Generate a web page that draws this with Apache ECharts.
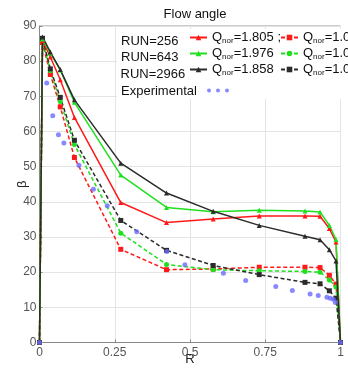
<!DOCTYPE html>
<html>
<head>
<meta charset="utf-8">
<script src="https://cdn.jsdelivr.net/npm/echarts@6/dist/echarts.min.js"></script>
<style>
  html, body { margin: 0; padding: 0; background: #fff; }
  #chart { width: 348px; height: 368px; }
</style>
</head>
<body>
<div id="chart"></div>
<script>
  // radial stations shared by all simulation runs
  const RUN_R = [0, 0.01, 0.036, 0.069, 0.116, 0.27, 0.422, 0.577, 0.73, 0.882, 0.932, 0.963, 0.985, 1];

  // flow angle β per run (solid = high flow, dashed = design flow)
  const RUN256_HI  = [0, 85.9, 81.2, 74.7, 64.0, 39.8, 34.1, 35.1, 36.0, 36.0, 35.9, 32.4, 28.6, 0];
  const RUN643_HI  = [0, 86.3, 82.3, 77.5, 68.3, 47.6, 38.4, 37.2, 37.6, 37.4, 37.1, 33.3, 29.3, 0];
  const RUN2966_HI = [0, 86.9, 82.6, 77.6, 69.0, 51.0, 42.5, 37.3, 33.3, 30.2, 29.2, 26.4, 23.2, 0];
  const RUN256_DS  = [0, 85.3, 76.2, 67.0, 52.6, 26.5, 20.7, 20.9, 21.4, 21.4, 21.3, 19.1, 16.6, 0];
  const RUN643_DS  = [0, 86.0, 77.3, 68.5, 56.3, 31.1, 22.2, 20.7, 20.4, 20.2, 20.0, 17.8, 15.8, 0];
  const RUN2966_DS = [0, 86.5, 77.8, 69.7, 57.5, 34.7, 26.2, 21.9, 19.3, 17.1, 16.7, 14.7, 12.6, 0];

  // experimental points
  const EXP_R    = [0, 0.024, 0.044, 0.063, 0.081, 0.131, 0.179, 0.225, 0.323, 0.423, 0.483, 0.611, 0.685, 0.785, 0.84, 0.899, 0.926, 0.955, 0.966, 0.976, 0.983, 1];
  const EXP_BETA = [0, 73.8, 64.5, 59.1, 56.7, 50.4, 43.6, 38.9, 31.5, 25.9, 22.1, 19.7, 17.6, 15.9, 14.8, 13.8, 13.4, 12.9, 12.6, 12.3, 11.4, 0];

  const X_TICKS = ['0', '0.25', '0.5', '0.75', '1'];

  const LEG_HI = { h256: '1.805 ;', h643: '1.976', h2966: '1.858' };
  const LEG_DS = { d256: '1.0', d643: '1.0', d2966: '1.0' };

  const RED = '#ff1a1a', GREEN = '#1fe01f', BLACK = '#2b2b2b', BLUE = '#6b6bff';
  const FONT = 'Liberation Sans, Arial, sans-serif';

  const pairs = (xs, ys) => xs.map((x, i) => [x, ys[i]]);

  function run(name, ys, color, dashed, symbol) {
    return {
      name, type: 'line', data: pairs(RUN_R, ys),
      symbol, symbolSize: 5, showSymbol: true,
      color, itemStyle: { color },
      lineStyle: { color, width: 1.5, type: dashed ? [4, 2.5] : 'solid' },
      animation: false, z: dashed ? 3 : 4,
    };
  }

  const qRich = {
    q: { fontSize: 13, fontFamily: FONT, color: '#111', lineHeight: 14 },
    s: { fontSize: 8, fontFamily: FONT, color: '#111', lineHeight: 14, verticalAlign: 'bottom', padding: [5, 0, 0, 0] },
  };
  const qText = v => `{q|Q}{s|nor}{q|=${v}}`;

  const chart = echarts.init(document.getElementById('chart'), null, { renderer: 'canvas' });
  chart.setOption({
    backgroundColor: '#fff',
    animation: false,
    title: {
      text: 'Flow angle', left: 190, top: 3, textAlign: 'center',
      textStyle: { fontSize: 13, fontWeight: 'normal', color: '#111', fontFamily: FONT },
    },
    grid: {
      left: 39.5, right: 7.5, top: 26, bottom: 25.5, show: true, borderColor: '#999', borderWidth: 1,
      containLabel: false, outerBoundsMode: 'none',
    },
    legend: [
      {
        orient: 'vertical', left: 189, top: 31, padding: 0, itemWidth: 17, itemHeight: 7, itemGap: 2.5,
        data: ['h256', 'h643', 'h2966'], selectedMode: false,
        formatter: n => qText(LEG_HI[n]), textStyle: { rich: qRich },
      },
      {
        orient: 'vertical', left: 280, top: 31, padding: 0, itemWidth: 17, itemHeight: 7, itemGap: 2.5,
        data: ['d256', 'd643', 'd2966'], selectedMode: false,
        formatter: n => qText(LEG_DS[n]), textStyle: { rich: qRich },
      },
      {
        left: 207, top: 88, padding: 0, itemWidth: 22, itemHeight: 5,
        data: [{ name: 'exp', icon: 'path://M0,2a2,2 0 1,0 4,0a2,2 0 1,0 -4,0M9,2a2,2 0 1,0 4,0a2,2 0 1,0 -4,0M18,2a2,2 0 1,0 4,0a2,2 0 1,0 -4,0' }],
        selectedMode: false, formatter: () => '', textStyle: { fontSize: 1 },
      },
    ],
    graphic: [
      { type: 'rect', shape: { x: 117, y: 29, width: 231, height: 70 }, style: { fill: '#fff' }, z: 1, silent: true },
      { type: 'text', x: 121, y: 41, z: 5, style: { text: 'RUN=256', font: `13px ${FONT}`, fill: '#111', verticalAlign: 'middle' } },
      { type: 'text', x: 121, y: 57.5, z: 5, style: { text: 'RUN=643', font: `13px ${FONT}`, fill: '#111', verticalAlign: 'middle' } },
      { type: 'text', x: 120.5, y: 74, z: 5, style: { text: 'RUN=2966', font: `13px ${FONT}`, fill: '#111', verticalAlign: 'middle' } },
      { type: 'text', x: 121, y: 91, z: 5, style: { text: 'Experimental', font: `13px ${FONT}`, fill: '#111', verticalAlign: 'middle' } },
    ],
    xAxis: {
      type: 'value', min: 0, max: 1, interval: 0.25,
      name: 'R', nameLocation: 'middle', nameGap: 10, nameMoveOverlap: false,
      nameTextStyle: { fontSize: 13, color: '#222', fontFamily: FONT },
      axisLine: { lineStyle: { color: '#888' } },
      axisTick: { inside: true, length: 3, lineStyle: { color: '#888' } },
      axisLabel: { color: '#555', fontSize: 12, fontFamily: FONT, margin: 4, formatter: (v) => X_TICKS[Math.round(v / 0.25)] },
      splitLine: { lineStyle: { color: '#e4e4e4' } },
    },
    yAxis: {
      type: 'value', min: 0, max: 90, interval: 10,
      name: 'β', nameLocation: 'middle', nameGap: 11, nameRotate: 90, nameMoveOverlap: false,
      nameTextStyle: { fontSize: 13, color: '#222', fontFamily: FONT },
      axisLine: { show: true, lineStyle: { color: '#888' } },
      axisTick: { show: true, inside: true, length: 3, lineStyle: { color: '#888' } },
      axisLabel: { color: '#555', fontSize: 12, fontFamily: FONT, margin: 3 },
      splitLine: { lineStyle: { color: '#e4e4e4' } },
    },
    series: [
      run('h256', RUN256_HI, RED, false, 'triangle'),
      run('h643', RUN643_HI, GREEN, false, 'triangle'),
      run('h2966', RUN2966_HI, BLACK, false, 'triangle'),
      run('d256', RUN256_DS, RED, true, 'rect'),
      run('d643', RUN643_DS, GREEN, true, 'circle'),
      run('d2966', RUN2966_DS, BLACK, true, 'rect'),
      {
        name: 'exp', type: 'scatter', data: pairs(EXP_R, EXP_BETA),
        symbol: 'circle', symbolSize: 5, itemStyle: { color: BLUE }, z: 5, animation: false,
      },
    ],
  });
</script>
</body>
</html>
